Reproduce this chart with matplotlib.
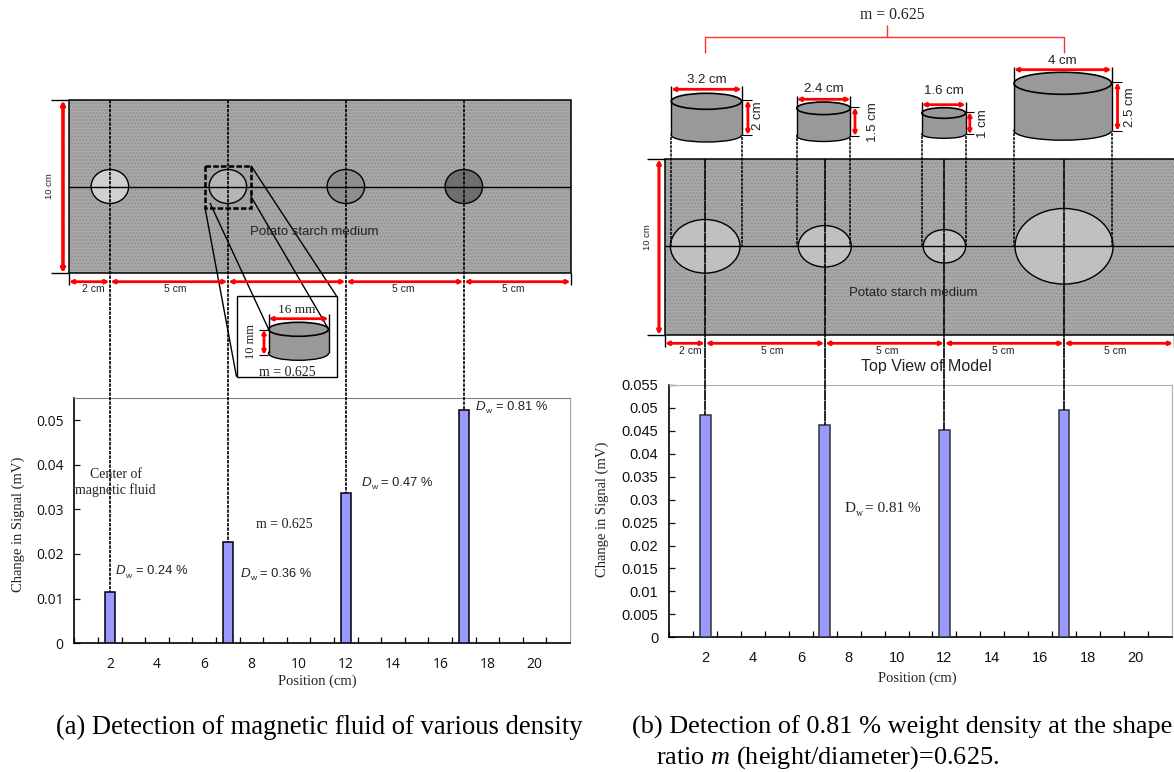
import matplotlib

matplotlib.use("Agg")

import matplotlib.pyplot as plt
from matplotlib.patches import Ellipse, Rectangle

W, H = 1174, 772
RED = "#ff0000"
SANS = "Liberation Sans"
SERIF = "Liberation Serif"

# bar values
positions = [2, 7, 12, 17]
signal_a = [0.0116, 0.0226, 0.0336, 0.0522]
signal_b = [0.0484, 0.0463, 0.0452, 0.0495]
density_labels_a = ["= 0.24 %", "= 0.36 %", "= 0.47 %", "= 0.81 %"]
ticks_x = [2, 4, 6, 8, 10, 12, 14, 16, 18, 20]
ticks_y_a = [0, 0.01, 0.02, 0.03, 0.04, 0.05]
ticks_y_a_labels = ["0", "0.01", "0.02", "0.03", "0.04", "0.05"]
ticks_y_b = [0, 0.005, 0.01, 0.015, 0.02, 0.025, 0.03, 0.035, 0.04, 0.045, 0.05, 0.055]
ticks_y_b_labels = ["0", "0.005", "0.01", "0.015", "0.02", "0.025", "0.03", "0.035", "0.04", "0.045", "0.05", "0.055"]

# model sketch sizes, in pixels
hole_grey_a = ["#d0d0d0", "#b6b6b6", "#8e8e8e", "#6e6e6e"]
hole_rx_b = [34.8, 26.5, 21.2, 49.0]
hole_ry_b = [26.8, 20.7, 16.7, 37.8]
cyl_names = ["3.2 cm", "2.4 cm", "1.6 cm", "4 cm"]
cyl_heights = ["2 cm", "1.5 cm", "1 cm", "2.5 cm"]
dim_labels_a = ["2 cm", "5 cm", "", "5 cm", "5 cm"]
dim_labels_b = ["2 cm", "5 cm", "5 cm", "5 cm", "5 cm"]


def px_axes(fig, left, top, right, bottom):
    return fig.add_axes([left / W, 1 - bottom / H, (right - left) / W, (bottom - top) / H])


def bar_chart(fig, box, values, yticks, ylabels, edge, top_color, right_color, tick_font, tick_size):
    ax = px_axes(fig, *box)
    ax.bar(positions, values, width=0.45, color="#9999ff", edgecolor=edge, linewidth=1.1, zorder=3)
    ax.set_xlim(0.5, 21.5)
    ax.set_ylim(0, 0.055)
    ax.set_xticks(ticks_x)
    ax.set_xticklabels([str(t) for t in ticks_x], family=tick_font, fontsize=tick_size)
    ax.set_xticks([i + 0.5 for i in range(21)], minor=True)
    ax.tick_params(axis="x", which="major", length=0, pad=10, colors="#111111")
    ax.tick_params(axis="x", which="minor", direction="in", length=4.5, width=0.9)
    ax.set_yticks(yticks)
    ax.set_yticklabels(ylabels, family=tick_font, fontsize=tick_size)
    ax.tick_params(axis="y", direction="in", length=4.5, width=0.9, pad=8, colors="#111111")
    ax.spines["top"].set_color(top_color)
    ax.spines["right"].set_color(right_color)
    ax.spines["left"].set_linewidth(1.2)
    ax.spines["bottom"].set_linewidth(1.2)
    return ax


def to_px(ov, ax, x, y):
    return ov.transData.inverted().transform(ax.transData.transform((x, y)))


def arrow(ov, x0, y0, x1, y1, lw=2.0):
    ov.annotate("", xy=(x1, y1), xytext=(x0, y0),
                arrowprops=dict(arrowstyle="<|-|>", color=RED, lw=lw, mutation_scale=5, shrinkA=0, shrinkB=0))


def line(ov, xs, ys, color="black", lw=1.0, ls="-"):
    ov.plot(xs, ys, color=color, lw=lw, ls=ls, solid_capstyle="butt")


def label(ov, x, y, s, size=9.5, family=SANS, rot=0, color="#222222", **kw):
    ov.text(x, y, s, fontsize=size, family=family, rotation=rot, color=color, ha="center", va="center", **kw)


def medium(ov, x0, x1, y0, y1):
    ov.add_patch(Rectangle((x0, y0), x1 - x0, y1 - y0, facecolor="#a9a9a9", edgecolor="#929292", hatch=".....", lw=0))
    ov.add_patch(Rectangle((x0, y0), x1 - x0, y1 - y0, fill=False, edgecolor="black", lw=1.1))


def cylinder(ov, x0, x1, top, bottom, ry_top, ry_bot):
    cx = (x0 + x1) / 2
    ov.add_patch(Ellipse((cx, bottom), x1 - x0, 2 * ry_bot, facecolor="#999999", edgecolor="black", lw=1.0))
    ov.add_patch(Rectangle((x0, top), x1 - x0, bottom - top, facecolor="#999999", edgecolor="none"))
    line(ov, [x0, x0], [top, bottom])
    line(ov, [x1, x1], [top, bottom])
    ov.add_patch(Ellipse((cx, top), x1 - x0, 2 * ry_top, facecolor="#999999", edgecolor="black", lw=1.2))


def dw_sans(ov, x, y, text):
    ov.text(x, y, "D", fontsize=9.6, family=SANS, style="italic", va="center", color="#222222")
    ov.text(x + 9.5, y + 5, "w", fontsize=6, family=SANS, va="center", color="#222222")
    ov.text(x + 19.5, y, text, fontsize=9.3, family=SANS, va="center", color="#222222")


def main() -> None:
    plt.rcParams["mathtext.fontset"] = "custom"
    plt.rcParams["mathtext.rm"] = SERIF
    plt.rcParams["mathtext.it"] = SERIF + ":italic"
    fig = plt.figure(figsize=(W / 100, H / 100), dpi=100)

    ax_a = bar_chart(fig, (74.5, 397.7, 570, 643.3), signal_a, ticks_y_a, ticks_y_a_labels, "black", "#808080", "#a0a0a0", "Open Sans", 10)
    ax_b = bar_chart(fig, (669.3, 385, 1171.7, 637.3), signal_b, ticks_y_b, ticks_y_b_labels, "#333333", "#b0b0b0", "#b0b0b0", SANS, 10.5)

    ov = fig.add_axes([0, 0, 1, 1])
    ov.set_xlim(0, W)
    ov.set_ylim(H, 0)
    ov.axis("off")

    # axis titles sit at fixed spots, same as the source figure
    label(ov, 18, 524, "Change in Signal (mV)", 10.5, SERIF, 90)
    label(ov, 317, 681, "Position (cm)", 10.5, SERIF)
    label(ov, 602.7, 509, "Change in Signal (mV)", 10.5, SERIF, 90)
    label(ov, 917, 678, "Position (cm)", 10.5, SERIF)

    # (a) model
    top_a, bot_a, mid_a = 100.3, 273.3, 186.5
    medium(ov, 68.5, 571, top_a, bot_a)
    xs_a = [to_px(ov, ax_a, p, 0)[0] for p in positions]
    for x, c in zip(xs_a, hole_grey_a):
        ov.add_patch(Ellipse((x, mid_a), 37.5, 34, facecolor=c, edgecolor="black", lw=1.0))
    line(ov, [68.5, 571], [mid_a, mid_a])
    for x, v in zip(xs_a, signal_a):
        line(ov, [x, x], [top_a, to_px(ov, ax_a, 0, v)[1]], lw=1.2, ls=(0, (2, 0.7)))
    for y in [top_a, bot_a]:
        line(ov, [51, 68.5], [y, y])
    arrow(ov, 63, top_a, 63, bot_a, 2.6)
    label(ov, 50, 186, "10 cm", 6.8, rot=90)
    label(ov, 314, 231.7, "Potato starch medium", 9.5)

    edges_a = [68.5] + xs_a + [571]
    for i in range(5):
        arrow(ov, edges_a[i] + 0.5, 281.7, edges_a[i + 1] - 0.5, 281.7, 2.0)
    line(ov, [68.5, 68.5], [273, 285])
    line(ov, [571, 571], [273, 285])
    for x, s in zip([93.7, 175, 287, 403, 513], dim_labels_a):
        label(ov, x, 289, s, 7.5)

    # zoom box and inset
    ov.add_patch(Rectangle((236.5, 296), 100, 80.7, facecolor="white", edgecolor="black", lw=1.0))
    ov.add_patch(Rectangle((205, 165.7), 46, 42, fill=False, edgecolor="black", lw=1.8, ls=(0, (2.2, 0.9))))
    line(ov, [205, 236.5], [207.7, 376.7])
    line(ov, [251, 336.5], [165.7, 296])
    line(ov, [210, 268.5], [203, 329])
    line(ov, [250.7, 328.5], [196, 329])
    cylinder(ov, 268.5, 328.5, 329.3, 353.3, 7, 7)
    line(ov, [268.5, 268.5], [314, 329])
    line(ov, [328.5, 328.5], [314, 329])
    arrow(ov, 268.5, 318.7, 328.5, 318.7)
    arrow(ov, 264, 329.5, 264, 355)
    line(ov, [259, 268], [329.5, 329.5], lw=0.8)
    line(ov, [259, 268], [355, 355], lw=0.8)
    label(ov, 297, 310, "16 mm", 9.5, SERIF)
    label(ov, 251, 342, "10 mm", 9, SERIF, 90)
    label(ov, 287.5, 372, "m = 0.625", 10, SERIF)

    # (a) annotations
    dw_sans(ov, 116, 571, density_labels_a[0])
    dw_sans(ov, 241, 574, density_labels_a[1])
    dw_sans(ov, 361.7, 482.7, density_labels_a[2])
    dw_sans(ov, 476, 406.7, density_labels_a[3])
    label(ov, 115.7, 475, "Center of", 10, SERIF)
    label(ov, 115, 490, "magnetic fluid", 10, SERIF)
    label(ov, 284, 525, "m = 0.625", 10, SERIF)

    # (b) model
    top_b, bot_b, mid_b = 159.3, 335, 246.3
    medium(ov, 664.5, 1175, top_b, bot_b)
    xs_b = [to_px(ov, ax_b, p, 0)[0] for p in positions]
    for x, rx, ry in zip(xs_b, hole_rx_b, hole_ry_b):
        ov.add_patch(Ellipse((x, mid_b), 2 * rx, 2 * ry, facecolor="#c0c0c0", edgecolor="black", lw=1.0))
    line(ov, [664.5, 1174], [mid_b, mid_b])
    for x, v in zip(xs_b, signal_b):
        line(ov, [x, x], [top_b, to_px(ov, ax_b, 0, v)[1]], lw=1.2, ls=(0, (6, 0.3)))

    cyl_x0 = [671.2, 796.7, 921.8, 1014]
    cyl_x1 = [741.6, 850.4, 965.6, 1111.5]
    cyl_top = [101.3, 108.3, 113, 83.3]
    cyl_bot = [135, 136, 134.3, 130.7]
    cyl_ry_top = [8, 6.3, 5.3, 11]
    cyl_ry_bot = [7, 5.5, 4, 9.5]
    cyl_dim_y = [89.3, 99.3, 104.7, 69.7]
    cyl_name_y = [80, 89, 91, 61]
    cyl_h_x = [747.9, 855, 969.8, 1117.5]
    cyl_hlabel_x = [757.8, 873.4, 982.9, 1130]
    cyl_hlabel_y = [116, 121.7, 123.3, 106.7]
    for i in range(4):
        x0, x1, t, b = cyl_x0[i], cyl_x1[i], cyl_top[i], cyl_bot[i]
        cylinder(ov, x0, x1, t, b, cyl_ry_top[i], cyl_ry_bot[i])
        for x in (x0, x1):
            line(ov, [x, x], [cyl_dim_y[i] - 3, t])
            line(ov, [x, x], [b + 2, mid_b], lw=1.1, ls=(0, (2, 0.7)))
        arrow(ov, x0, cyl_dim_y[i], x1, cyl_dim_y[i])
        arrow(ov, cyl_h_x[i], t - 1, cyl_h_x[i], b)
        line(ov, [x1, cyl_h_x[i] + 4], [t - 1, t - 1], lw=0.8)
        line(ov, [x1, cyl_h_x[i] + 4], [b, b], lw=0.8)
        label(ov, (x0 + x1) / 2, cyl_name_y[i], cyl_names[i], 9.5)
        label(ov, cyl_hlabel_x[i], cyl_hlabel_y[i], cyl_heights[i], 9.5, rot=90)

    line(ov, [xs_b[0], xs_b[0], xs_b[3], xs_b[3]], [53.3, 36.7, 36.7, 53.3], color="#ff3030", lw=1.0)
    line(ov, [887, 887], [25, 36.7], color="#ff3030", lw=1.0)
    label(ov, 892.4, 15.3, "m = 0.625", 11.3, SERIF)

    for y in [top_b, bot_b]:
        line(ov, [647, 664.5], [y, y])
    arrow(ov, 659, top_b, 659, bot_b, 2.2)
    label(ov, 647, 237, "10 cm", 6.8, rot=90)
    label(ov, 913, 293, "Potato starch medium", 9.5)

    edges_b = [664.5] + xs_b + [1173.5]
    for i in range(5):
        arrow(ov, edges_b[i] + 0.5, 343.3, edges_b[i + 1] - 0.5, 343.3, 2.0)
    line(ov, [665, 665], [335, 347])
    line(ov, [1173.5, 1173.5], [335, 347])
    for x, s in zip([690, 772.6, 886.8, 1003.4, 1115.4], dim_labels_b):
        label(ov, x, 350.7, s, 7.5)
    label(ov, 926, 367, "Top View of Model", 11.5)

    ov.text(845, 509, "D", fontsize=11, family=SERIF, va="center", color="#222222")
    ov.text(856, 513, "w", fontsize=7, family=SERIF, va="center", color="#222222")
    ov.text(865, 509, "= 0.81 %", fontsize=11, family=SERIF, va="center", color="#222222")

    # captions
    ov.text(55.5, 727, "(a) Detection of magnetic fluid of various density", fontsize=19.15, family=SERIF, va="center", color="black")
    ov.text(631.5, 727, "(b) Detection of 0.81 % weight density at the shape", fontsize=18.9, family=SERIF, va="center", color="black")
    ov.text(655.5, 758, "ratio $m$ (height/diameter)=0.625.", fontsize=18.9, family=SERIF, va="center", color="black")

    fig.savefig("out.png", dpi=100)
    plt.close(fig)


if __name__ == "__main__":
    main()
